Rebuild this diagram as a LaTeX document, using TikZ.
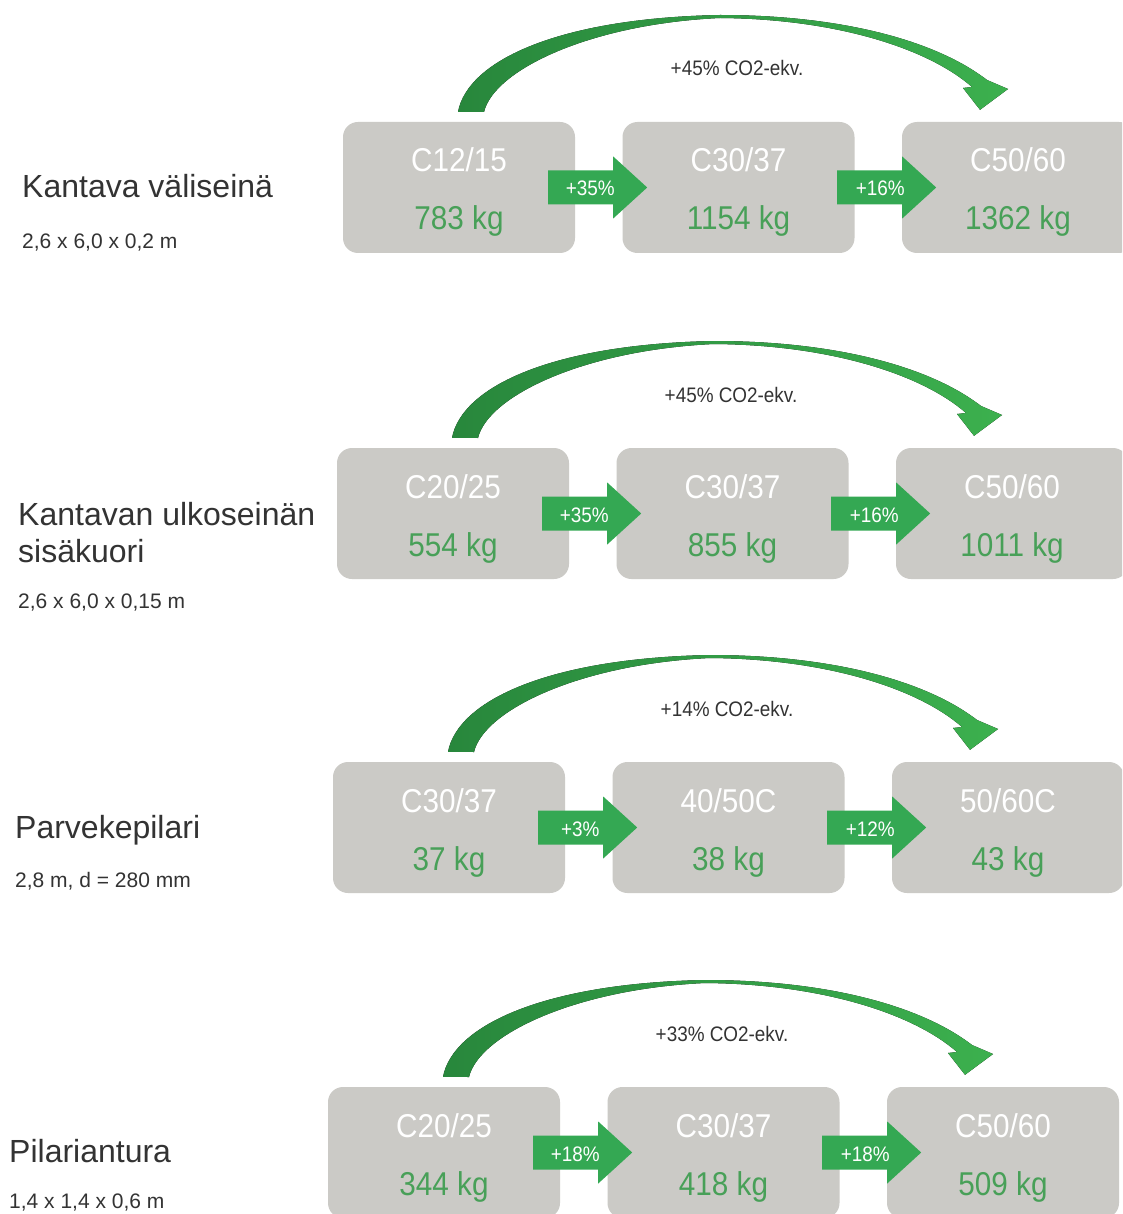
\documentclass[tikz,border=0pt]{standalone}
\usepackage{fontspec}
\setmainfont{Liberation Sans}
\newfontfamily\narrowsans[FakeStretch=0.9]{Liberation Sans}
\usetikzlibrary{calc}
\definecolor{boxgray}{RGB}{203,202,198}
\definecolor{flowgreen}{RGB}{52,168,83}
\definecolor{kggreen}{RGB}{72,160,88}
\definecolor{swooshdark}{RGB}{40,135,60}
\definecolor{swooshlight}{RGB}{60,176,78}
\definecolor{labelgray}{RGB}{51,51,51}
\tikzset{
  stagebox/.style={rectangle, rounded corners=15pt, fill=boxgray, minimum width=232pt, minimum height=131pt, inner sep=0pt},
  gradetext/.style={anchor=base, inner sep=0pt, text=white, font=\narrowsans\fontsize{33}{33}\selectfont},
  masstext/.style={anchor=base, inner sep=0pt, text=kggreen, font=\narrowsans\fontsize{33}{33}\selectfont},
  pcttext/.style={anchor=base, inner sep=0pt, text=white, font=\narrowsans\fontsize{21}{21}\selectfont},
  co2text/.style={anchor=base, inner sep=0pt, text=labelgray, font=\narrowsans\fontsize{21}{21}\selectfont},
  titletext/.style={anchor=base west, inner sep=0pt, text=labelgray, font=\fontsize{32}{37}\selectfont},
  dimtext/.style={anchor=base west, inner sep=0pt, text=labelgray, font=\fontsize{21}{21}\selectfont},
  stepflow/.style={fill=flowgreen},
  swoosh/.style={left color=swooshdark, right color=swooshlight},
}
% #1 id, #2-#7 grade/mass texts, #8 #9 step percentages
\newcommand{\stagerow}[9]{%
  \node[stagebox] (#1a) at (459,187.5) {};
  \node[stagebox] (#1b) at (738.5,187.5) {};
  \node[stagebox] (#1c) at (1018,187.5) {};
  \node[gradetext] (#1ag) at ($(#1a.center)+(0,-15.5)$) {#2};
  \node[masstext]  (#1am) at ($(#1a.center)+(0,42.5)$) {#3};
  \node[gradetext] (#1bg) at ($(#1b.center)+(0,-15.5)$) {#4};
  \node[masstext]  (#1bm) at ($(#1b.center)+(0,42.5)$) {#5};
  \node[gradetext] (#1cg) at ($(#1c.center)+(0,-15.5)$) {#6};
  \node[masstext]  (#1cm) at ($(#1c.center)+(0,42.5)$) {#7};
  \fill[stepflow] ($(#1a.east)+(-27,-17)$) -- ++(65,0) -- ++(0,-14) -- ++(34,31) -- ++(-34,31) -- ++(0,-14) -- ++(-65,0) -- cycle;
  \node[pcttext] (#1ab) at ($(#1a.east)+(15,8.5)$) {#8};
  \fill[stepflow] ($(#1b.east)+(-17.5,-17)$) -- ++(65,0) -- ++(0,-14) -- ++(34,31) -- ++(-34,31) -- ++(0,-14) -- ++(-65,0) -- cycle;
  \node[pcttext] (#1bc) at ($(#1b.east)+(25.5,8.5)$) {#9};
}
% #1 id, #2 text
\newcommand{\swooshrow}[2]{%
  \coordinate (#1s) at ($(#1a.north)+(-1,-10)$);
  \coordinate (#1t) at ($(#1c.north)+(-38,-12)$);
  \fill[swoosh] (#1s) .. controls (468,60) and (560,18) .. (720,15)
    .. controls (840,15) and (935,40) .. (987,80)
    -- (1008,89) -- (#1t) -- (963,88) -- (972,87)
    .. controls (930,50) and (840,19) .. (720,18)
    .. controls (590,24) and (494,70) .. (484,112) -- cycle;
  \node[co2text] (#1co) at (737,76) {#2};
}
\begin{document}
\begin{tikzpicture}[x=1pt, y=-1pt]
\useasboundingbox (0,0) rectangle (1122,1214);
\clip (0,0) rectangle (1122,1214);
\fill[white] (0,0) rectangle (1122,1214);

\begin{scope}
  \stagerow{r1}{C12/15}{783 kg}{C30/37}{1154 kg}{C50/60}{1362 kg}{+35\%}{+16\%}
  \swooshrow{r1}{+45\% CO2-ekv.}
\end{scope}
\begin{scope}[shift={(-6,326)}]
  \stagerow{r2}{C20/25}{554 kg}{C30/37}{855 kg}{C50/60}{1011 kg}{+35\%}{+16\%}
  \swooshrow{r2}{+45\% CO2-ekv.}
\end{scope}
\begin{scope}[shift={(-10,640)}]
  \stagerow{r3}{C30/37}{37 kg}{40/50C}{38 kg}{50/60C}{43 kg}{+3\%}{+12\%}
  \swooshrow{r3}{+14\% CO2-ekv.}
\end{scope}
\begin{scope}[shift={(-15,965)}]
  \stagerow{r4}{C20/25}{344 kg}{C30/37}{418 kg}{C50/60}{509 kg}{+18\%}{+18\%}
  \swooshrow{r4}{+33\% CO2-ekv.}
\end{scope}

\node[titletext] (t1) at (22,198) {Kantava väliseinä};
\node[dimtext] (d1) at (22,249) {2,6 x 6,0 x 0,2 m};
\node[titletext] (t2a) at (18,525) {Kantavan ulkoseinän};
\node[titletext] (t2b) at (18,562) {sisäkuori};
\node[dimtext] (d2) at (18,608) {2,6 x 6,0 x 0,15 m};
\node[titletext] (t3) at (15,838) {Parvekepilari};
\node[dimtext] (d3) at (15,887) {2,8 m, d = 280 mm};
\node[titletext] (t4) at (9,1162) {Pilariantura};
\node[dimtext] (d4) at (9,1208) {1,4 x 1,4 x 0,6 m};
\end{tikzpicture}
\end{document}
